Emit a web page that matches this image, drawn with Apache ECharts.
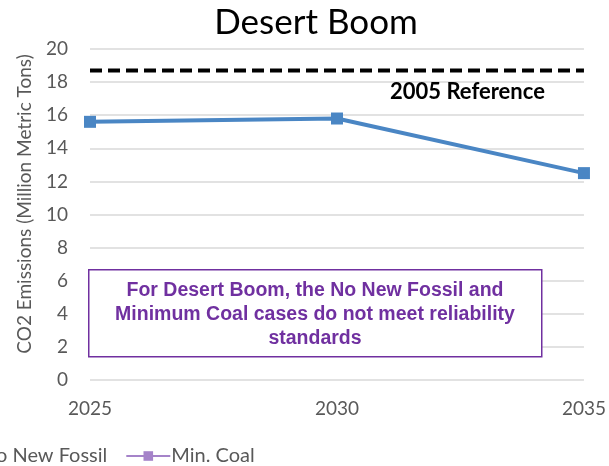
<!DOCTYPE html>
<html>
<head>
<meta charset="utf-8">
<script src="https://cdn.jsdelivr.net/npm/echarts@6/dist/echarts.min.js"></script>
<style>
  html, body { margin: 0; padding: 0; background: #ffffff; }
  #chart { width: 609px; height: 466px; }
</style>
</head>
<body>
<div id="chart"></div>
<script>
// Scenario years and emissions (million metric tons CO2)
const years = ['2025', '2030', '2035'];
const desertBoom = [15.6, 15.8, 12.5];
const reference2005 = [18.7, 18.7, 18.7];
const yTicks = { min: 0, max: 20, interval: 2 };

const chart = echarts.init(document.getElementById('chart'));
const font = 'Lato, "Open Sans", sans-serif';

chart.setOption({
  animation: false,
  title: {
    text: 'Desert Boom',
    left: 311, top: 0, textAlign: 'center',
    textStyle: { fontFamily: font, fontSize: 35, fontWeight: 'normal', color: '#000000' }
  },
  grid: { left: 90, right: 23, top: 49, bottom: 86 },
  legend: {
    left: -70, top: 441,
    itemWidth: 44, itemHeight: 12, itemGap: 18,
    textStyle: { fontFamily: font, fontSize: 20, color: '#595959', padding: [0, 0, 0, -4] },
    data: ['No New Fossil', 'Min. Coal']
  },
  xAxis: {
    type: 'category', data: years, boundaryGap: false,
    axisLine: { show: false }, axisTick: { show: false },
    axisLabel: { fontFamily: font, fontSize: 19, color: '#595959', margin: 19, showMaxLabel: true }
  },
  yAxis: {
    type: 'value', min: yTicks.min, max: yTicks.max, interval: yTicks.interval,
    axisLabel: { fontFamily: font, fontSize: 19, color: '#595959', margin: 22 },
    splitLine: { lineStyle: { color: '#d9d9d9', width: 1.5 } }
  },
  series: [
    {
      name: '2005 Reference', type: 'line', data: reference2005,
      symbol: 'none', silent: true,
      lineStyle: { color: '#000000', width: 4, type: [12, 6] }
    },
    {
      name: 'Desert Boom', type: 'line', data: desertBoom,
      symbol: 'rect', symbolSize: 12,
      itemStyle: { color: '#4a86c4' },
      lineStyle: { color: '#4a86c4', width: 4 }
    },
    {
      name: 'No New Fossil', type: 'line', data: [],
      symbol: 'rect', itemStyle: { color: '#e07b39' }, lineStyle: { color: '#e07b39', width: 4 }
    },
    {
      name: 'Min. Coal', type: 'line', data: [],
      symbol: 'rect', itemStyle: { color: '#a583c9' }, lineStyle: { color: '#a583c9', width: 4 }
    }
  ],
  graphic: [
    {
      // vertical axis title
      type: 'text', x: 25, y: 204, rotation: Math.PI / 2, z: 10,
      style: {
        text: 'CO2 Emissions (Million Metric Tons)',
        font: '19px ' + font, fill: '#595959', align: 'center', verticalAlign: 'middle'
      }
    },
    {
      type: 'text', left: 390, top: 81, z: 10,
      style: { text: '2005 Reference', font: 'bold 22px ' + font, fill: '#000000' }
    },
    {
      type: 'rect', left: 88, top: 269, z: 10,
      shape: { width: 453, height: 87 },
      style: { fill: '#ffffff', stroke: '#7030a0', lineWidth: 1.5 }
    },
    {
      type: 'text', x: 315, y: 279, z: 11,
      style: {
        text: 'For Desert Boom, the No New Fossil and\nMinimum Coal cases do not meet reliability\nstandards',
        font: 'bold 19.5px "Liberation Sans", Arial, sans-serif',
        fill: '#7030a0', align: 'center', lineHeight: 24
      }
    }
  ]
});
</script>
</body>
</html>
